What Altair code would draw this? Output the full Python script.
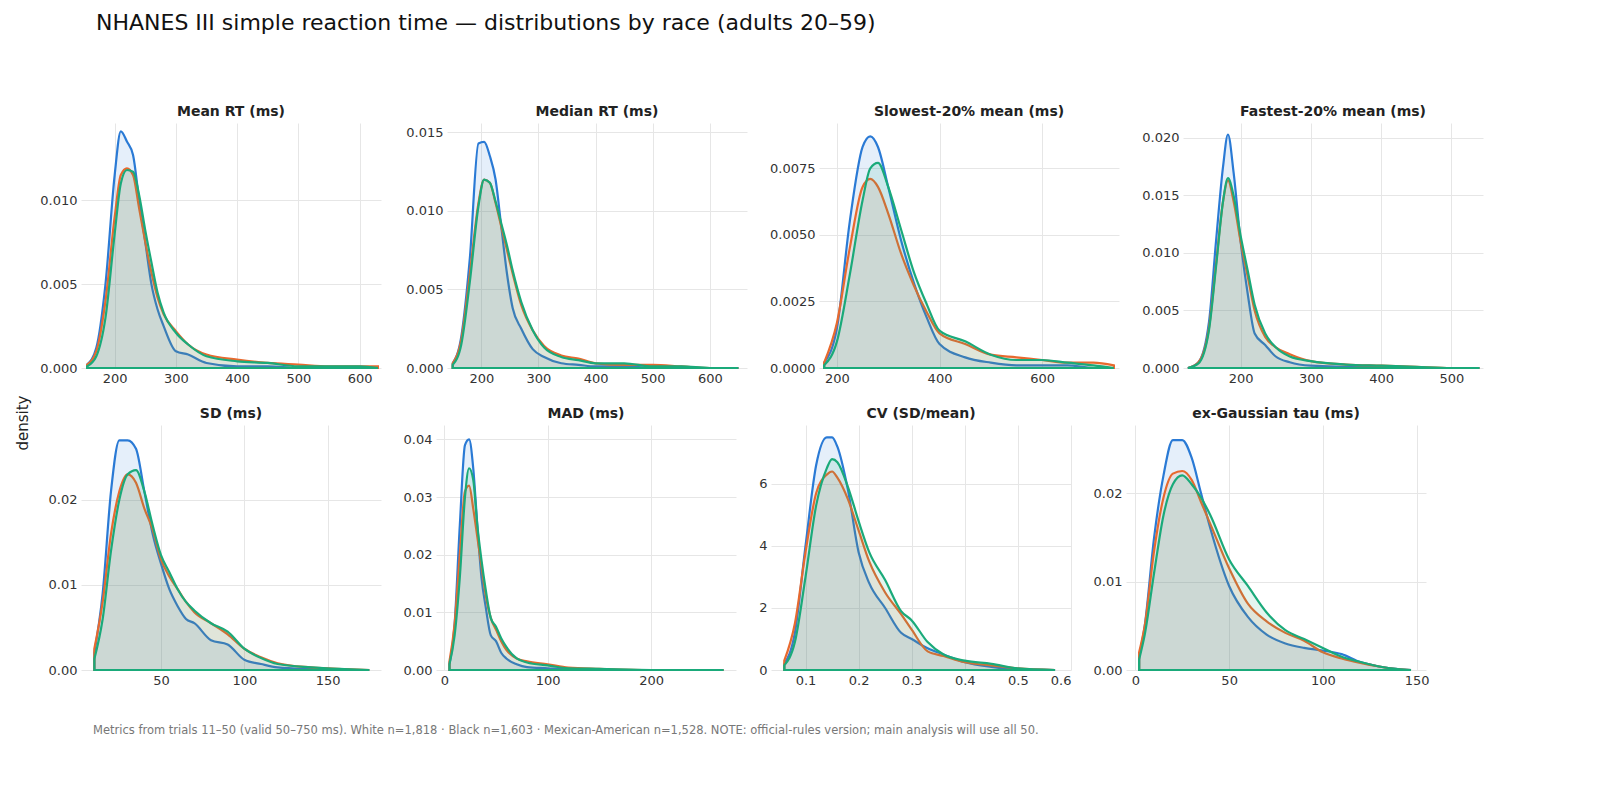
import altair as alt
import pandas as pd

GROUPS = ["White", "Black", "MexAm"]
COLORS = ["#2a7ad5", "#e8692e", "#1aaa7a"]

mean_x = [155, 170, 185, 200, 210, 220, 230, 240, 250, 260, 270, 280, 300, 320, 350, 400, 450, 500, 550, 600, 630]
mean_w = [0.0002, 0.0012, 0.005, 0.0115, 0.0141, 0.0135, 0.0127, 0.010, 0.0075, 0.005, 0.0035, 0.0025, 0.001, 0.0008, 0.0003, 0.0001, 0.0001, 0, 0, 0, 0]
mean_b = [0.0002, 0.001, 0.004, 0.009, 0.0115, 0.0119, 0.0115, 0.0095, 0.0075, 0.0057, 0.0042, 0.0032, 0.0022, 0.0014, 0.0008, 0.0005, 0.0003, 0.0002, 0.0001, 0.0001, 0.0001]
mean_m = [0.0001, 0.0007, 0.003, 0.008, 0.011, 0.0118, 0.0117, 0.0103, 0.0082, 0.0063, 0.0045, 0.0033, 0.0021, 0.0014, 0.0007, 0.0004, 0.0003, 0.0001, 0.0001, 0.0001, 0]

med_x = [150, 165, 180, 195, 205, 215, 225, 235, 245, 255, 270, 290, 310, 340, 370, 400, 450, 500, 550, 600, 650]
med_w = [0.0003, 0.002, 0.007, 0.0143, 0.0144, 0.0135, 0.012, 0.009, 0.006, 0.0038, 0.0025, 0.0012, 0.0007, 0.0003, 0.0002, 0.0001, 0.0001, 0, 0, 0, 0]
med_b = [0.0003, 0.0018, 0.006, 0.0105, 0.012, 0.0118, 0.0105, 0.009, 0.0075, 0.006, 0.004, 0.0024, 0.0014, 0.0008, 0.0006, 0.0003, 0.0002, 0.0002, 0.0001, 0, 0]
med_m = [0.0002, 0.0015, 0.0055, 0.0103, 0.012, 0.0118, 0.0106, 0.0092, 0.0078, 0.0062, 0.0042, 0.0024, 0.0013, 0.0007, 0.0005, 0.0003, 0.0003, 0.0001, 0.0001, 0, 0]

slow_x = [175, 200, 225, 250, 265, 280, 300, 325, 350, 375, 400, 450, 500, 550, 600, 650, 700, 740]
slow_w = [0.0002, 0.0015, 0.0055, 0.0083, 0.0087, 0.0083, 0.0068, 0.0048, 0.0032, 0.0019, 0.0009, 0.0004, 0.0002, 0.0001, 0.0001, 0.0001, 0, 0]
slow_b = [0.0002, 0.0017, 0.0045, 0.0068, 0.0071, 0.0068, 0.0058, 0.0043, 0.0031, 0.0021, 0.0013, 0.0009, 0.0005, 0.0004, 0.0003, 0.0002, 0.0002, 0.0001]
slow_m = [0.0001, 0.001, 0.0035, 0.0063, 0.0075, 0.0077, 0.0068, 0.0052, 0.0036, 0.0024, 0.0014, 0.001, 0.0005, 0.0003, 0.0003, 0.0002, 0.0001, 0]

fast_x = [125, 140, 155, 165, 175, 182, 190, 200, 210, 220, 235, 250, 270, 300, 350, 400, 450, 500, 540]
fast_w = [0, 0.0005, 0.004, 0.011, 0.0175, 0.0203, 0.017, 0.011, 0.0065, 0.003, 0.002, 0.001, 0.0005, 0.0002, 0.0001, 0.0001, 0, 0, 0]
fast_b = [0, 0.0005, 0.0035, 0.009, 0.0145, 0.0163, 0.0145, 0.011, 0.008, 0.005, 0.0027, 0.0018, 0.0012, 0.0006, 0.0003, 0.0002, 0.0001, 0, 0]
fast_m = [0, 0.0004, 0.0033, 0.0088, 0.0145, 0.0165, 0.015, 0.0115, 0.0085, 0.0055, 0.003, 0.0018, 0.001, 0.0006, 0.0003, 0.0002, 0.0001, 0, 0]

sd_x = [10, 15, 20, 25, 30, 35, 40, 45, 50, 55, 60, 65, 70, 80, 90, 100, 110, 120, 140, 160, 175]
sd_w = [0.002, 0.009, 0.021, 0.027, 0.027, 0.026, 0.021, 0.016, 0.0125, 0.0095, 0.0075, 0.006, 0.0055, 0.0035, 0.003, 0.0012, 0.0007, 0.0003, 0.0001, 0, 0]
sd_b = [0.0025, 0.008, 0.016, 0.021, 0.023, 0.022, 0.019, 0.0165, 0.013, 0.011, 0.0095, 0.008, 0.0068, 0.0055, 0.0042, 0.0025, 0.0015, 0.0008, 0.0003, 0.0001, 0]
sd_m = [0.0013, 0.006, 0.014, 0.02, 0.023, 0.0235, 0.021, 0.017, 0.0135, 0.0115, 0.0095, 0.008, 0.007, 0.0055, 0.0045, 0.0025, 0.0014, 0.0007, 0.0003, 0.0001, 0]

mad_x = [5, 10, 15, 20, 24, 28, 32, 36, 40, 45, 50, 55, 60, 70, 80, 100, 120, 150, 200, 270]
mad_w = [0.001, 0.008, 0.025, 0.039, 0.040, 0.035, 0.025, 0.016, 0.011, 0.006, 0.005, 0.003, 0.002, 0.001, 0.0005, 0.0003, 0.0001, 0, 0, 0]
mad_b = [0.0015, 0.008, 0.02, 0.031, 0.032, 0.028, 0.023, 0.018, 0.013, 0.009, 0.007, 0.005, 0.0035, 0.002, 0.0015, 0.001, 0.0004, 0.0002, 0, 0]
mad_m = [0.001, 0.006, 0.016, 0.03, 0.035, 0.033, 0.025, 0.019, 0.014, 0.009, 0.0075, 0.0055, 0.004, 0.002, 0.0013, 0.0008, 0.0003, 0.0002, 0, 0]

cv_x = [0.06, 0.08, 0.1, 0.12, 0.14, 0.15, 0.16, 0.18, 0.2, 0.22, 0.25, 0.28, 0.3, 0.33, 0.36, 0.4, 0.45, 0.5, 0.57]
cv_w = [0.2, 1.2, 4.0, 6.6, 7.5, 7.5, 7.2, 5.8, 3.8, 2.8, 2.0, 1.2, 1.0, 0.7, 0.5, 0.25, 0.1, 0.02, 0]
cv_b = [0.3, 1.5, 3.8, 5.7, 6.3, 6.4, 6.2, 5.5, 4.5, 3.5, 2.5, 1.8, 1.3, 0.6, 0.45, 0.25, 0.15, 0.05, 0]
cv_m = [0.15, 0.9, 3.0, 5.3, 6.5, 6.8, 6.7, 5.9, 4.8, 3.8, 2.9, 1.9, 1.6, 0.9, 0.5, 0.3, 0.2, 0.05, 0]

tau_x = [2, 5, 10, 15, 20, 25, 30, 35, 40, 50, 60, 70, 80, 90, 100, 110, 120, 130, 140, 147]
tau_w = [0.0015, 0.005, 0.015, 0.022, 0.026, 0.026, 0.024, 0.02, 0.016, 0.0095, 0.006, 0.004, 0.003, 0.0025, 0.0022, 0.0018, 0.0009, 0.0004, 0.0001, 0]
tau_b = [0.002, 0.005, 0.0135, 0.0195, 0.0222, 0.0225, 0.0215, 0.019, 0.0165, 0.0115, 0.0075, 0.0055, 0.0042, 0.0033, 0.002, 0.0013, 0.0008, 0.0004, 0.0001, 0]
tau_m = [0.0012, 0.004, 0.011, 0.0175, 0.021, 0.022, 0.021, 0.0195, 0.0175, 0.0125, 0.0095, 0.0065, 0.0045, 0.0035, 0.0025, 0.0015, 0.0009, 0.0004, 0.0001, 0]

PANELS = [
    ("Mean RT (ms)", mean_x, mean_w, mean_b, mean_m, [145, 635], 0.0146, [200, 300, 400, 500, 600], [0, 0.005, 0.01], ".3f"),
    ("Median RT (ms)", med_x, med_w, med_b, med_m, [140, 665], 0.0156, [200, 300, 400, 500, 600], [0, 0.005, 0.01, 0.015], ".3f"),
    ("Slowest-20% mean (ms)", slow_x, slow_w, slow_b, slow_m, [165, 750], 0.0092, [200, 400, 600], [0, 0.0025, 0.005, 0.0075], ".4f"),
    ("Fastest-20% mean (ms)", fast_x, fast_w, fast_b, fast_m, [118, 545], 0.0213, [200, 300, 400, 500], [0, 0.005, 0.01, 0.015, 0.02], ".3f"),
    ("SD (ms)", sd_x, sd_w, sd_b, sd_m, [2, 182], 0.0288, [50, 100, 150], [0, 0.01, 0.02], ".2f"),
    ("MAD (ms)", mad_x, mad_w, mad_b, mad_m, [-8, 282], 0.0425, [0, 100, 200], [0, 0.01, 0.02, 0.03, 0.04], ".2f"),
    ("CV (SD/mean)", cv_x, cv_w, cv_b, cv_m, [0.035, 0.6], 7.9, [0.1, 0.2, 0.3, 0.4, 0.5, 0.6], [0, 2, 4, 6], "d"),
    ("ex-Gaussian tau (ms)", tau_x, tau_w, tau_b, tau_m, [-5, 155], 0.0277, [0, 50, 100, 150], [0, 0.01, 0.02], ".2f"),
]

W, H = 300, 245


def panel(i, title, xs, w, b, m, xdom, ymax, xt, yt, yfmt):
    rows = []
    for g, vals in zip(GROUPS, [w, b, m]):
        for x, v in zip(xs, vals):
            rows.append({"x": x, "d": v, "g": g})
    df = pd.DataFrame(rows)
    scale = alt.Scale(domain=GROUPS, range=COLORS)
    if i == 0:
        leg = alt.Legend(orient="none", legendX=640, legendY=-78, direction="horizontal",
                         title=None)
    else:
        leg = None
    return (
        alt.Chart(df, title=alt.Title(title, fontSize=14, fontWeight="bold", color="#222"))
        .mark_area(interpolate="monotone", fillOpacity=0.12, strokeWidth=2.2)
        .encode(
            x=alt.X("x:Q", scale=alt.Scale(domain=xdom, nice=False, zero=False),
                    axis=alt.Axis(values=xt, title=None)),
            y=alt.Y("d:Q", stack=None, scale=alt.Scale(domain=[0, ymax], nice=False),
                    axis=alt.Axis(values=yt, format=yfmt, title=None)),
            fill=alt.Fill("g:N", scale=scale, sort=GROUPS, legend=None),
            stroke=alt.Stroke("g:N", scale=scale, sort=GROUPS, legend=leg),
            order=alt.Order("g:N"),
        )
        .properties(width=W, height=H)
    )


charts = [panel(i, *p) for i, p in enumerate(PANELS)]
grid = alt.vconcat(
    alt.hconcat(*charts[:4], spacing=22),
    alt.hconcat(*charts[4:], spacing=22),
    spacing=22,
)

ylab = (
    alt.Chart(pd.DataFrame({"t": ["density"]}))
    .mark_text(angle=270, fontSize=15, color="#222", font="DejaVu Sans")
    .encode(text="t:N", x=alt.value(0), y=alt.value(300))
    .properties(width=4, height=600)
)

caption = (
    alt.Chart(pd.DataFrame({"t": ["Metrics from trials 11–50 (valid 50–750 ms). White n=1,818 · Black n=1,603 · "
                                  "Mexican-American n=1,528. NOTE: official-rules version; main analysis will use all 50."]}))
    .mark_text(align="left", fontSize=11.5, color="#777", font="DejaVu Sans")
    .encode(text="t:N", x=alt.value(70), y=alt.value(2))
    .properties(width=1400, height=6)
)

chart = (
    alt.vconcat(alt.hconcat(ylab, grid, spacing=8), caption, spacing=2)
    .properties(title=alt.Title("NHANES III simple reaction time — distributions by race (adults 20–59)",
                                fontSize=22, fontWeight="normal", color="#111", anchor="start",
                                offset=70, dx=80))
    .configure(font="DejaVu Sans", background="white")
    .configure_view(stroke=None)
    .configure_axis(grid=True, gridColor="#e6e6e6", domain=False, ticks=False,
                    labelFontSize=13, labelColor="#333", labelPadding=4)
    .configure_legend(labelFontSize=14, symbolSize=420, symbolType="square",
                      symbolStrokeWidth=2, symbolFillColor="#eef1f4", columnPadding=12)
    .properties(padding={"left": 8, "top": 4, "right": 8, "bottom": 2})
)

chart.save("out.html", embed_options={"renderer": "svg", "actions": False})
